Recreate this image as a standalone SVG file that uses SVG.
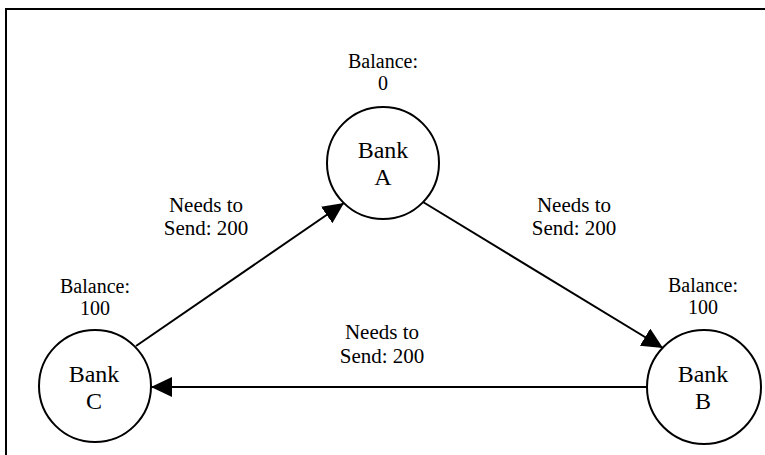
<svg xmlns="http://www.w3.org/2000/svg" width="765" height="455" viewBox="0 0 765 455">
<style>
.bg{fill:#fff}
.frame{fill:none;stroke:#000;stroke-width:2}
.node circle{fill:#fff;stroke:#000;stroke-width:2}
.edge{stroke:#000;stroke-width:2;fill:none}
text{font-family:"Liberation Serif","Times New Roman",serif;fill:#000;text-anchor:middle}
.bal{font-size:20px}
.lbl{font-size:21px}
.bank{font-size:24px}
</style>
<defs>
<marker id="arr" markerUnits="userSpaceOnUse" markerWidth="22" markerHeight="22" refX="21" refY="10" orient="auto">
<path d="M0,0 L21,10 L0,20 z" fill="#000"/>
</marker>
</defs>
<rect class="bg" x="0" y="0" width="765" height="455"/>
<rect class="frame" x="6" y="9" width="800" height="500"/>
<g id="connectors">
<line class="edge" x1="136" y1="346" x2="344" y2="203" marker-end="url(#arr)"/>
<line class="edge" x1="423" y1="202" x2="663" y2="348" marker-end="url(#arr)"/>
<line class="edge" x1="646" y1="387" x2="151" y2="387" marker-end="url(#arr)"/>
<text class="lbl" x="206" y="212">Needs to</text>
<text class="lbl" x="206" y="235">Send: 200</text>
<text class="lbl" x="574" y="212">Needs to</text>
<text class="lbl" x="574" y="235">Send: 200</text>
<text class="lbl" x="382" y="339">Needs to</text>
<text class="lbl" x="382" y="363">Send: 200</text>
</g>
<g id="bankA" class="node">
<circle cx="383" cy="163" r="56"/>
<text class="bank" x="383" y="158">Bank</text>
<text class="bank" x="383" y="185">A</text>
<text class="bal" x="383" y="68">Balance:</text>
<text class="bal" x="383" y="90">0</text>
</g>
<g id="bankB" class="node">
<circle cx="704" cy="387" r="57"/>
<text class="bank" x="703" y="382">Bank</text>
<text class="bank" x="703" y="409">B</text>
<text class="bal" x="703" y="292">Balance:</text>
<text class="bal" x="703" y="314">100</text>
</g>
<g id="bankC" class="node">
<circle cx="95" cy="386" r="56"/>
<text class="bank" x="94" y="382">Bank</text>
<text class="bank" x="94" y="409">C</text>
<text class="bal" x="95" y="293">Balance:</text>
<text class="bal" x="95" y="315">100</text>
</g>
</svg>
